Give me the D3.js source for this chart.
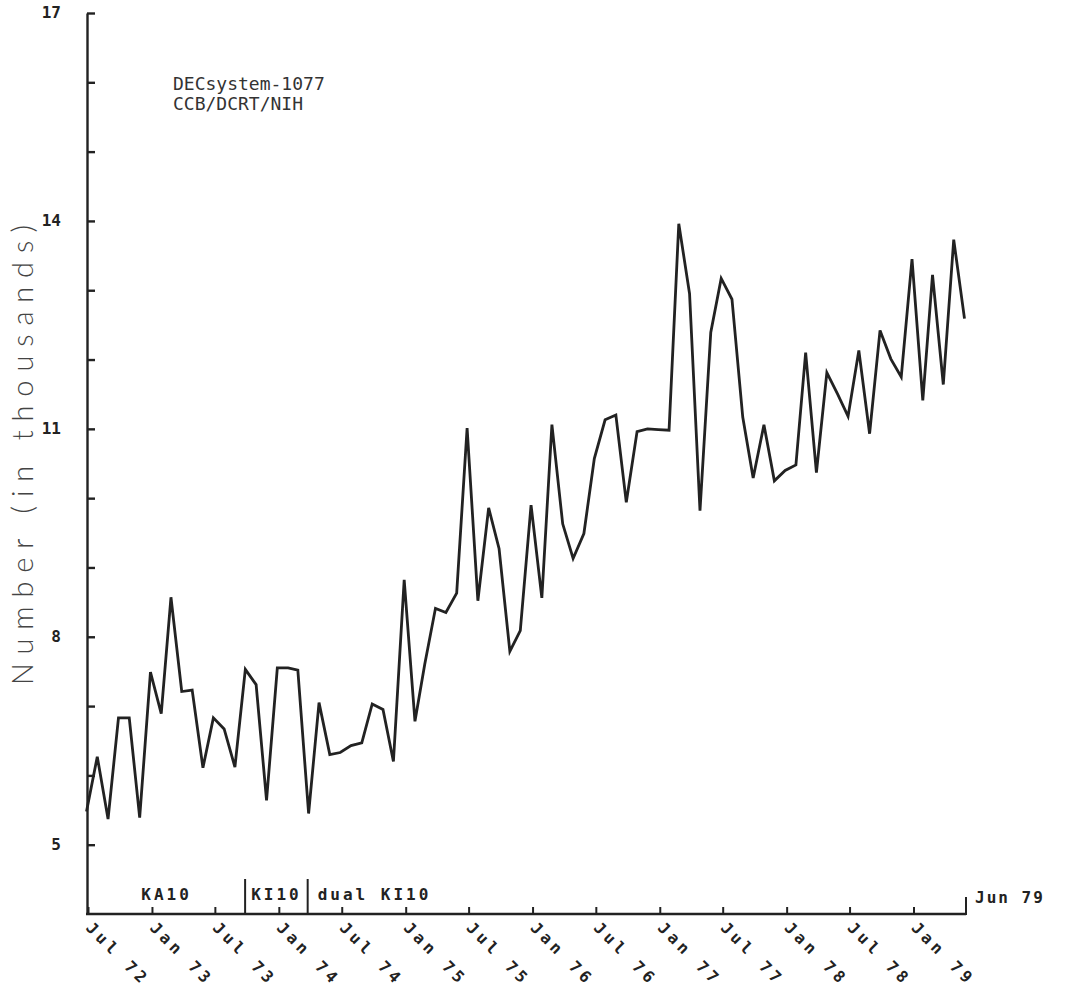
<!DOCTYPE html>
<html>
<head>
<meta charset="utf-8">
<script src="https://cdn.jsdelivr.net/npm/d3@7/dist/d3.min.js"></script>
<style>
  body { margin: 0; background: #fff; }
</style>
</head>
<body>
<div id="chart"></div>
<script>
// monthly values (thousands), one per month starting Jul 72
var firstMonth = "Jul 72";
var values = [
  5.48, 6.27, 5.37, 6.83, 6.83, 5.39, 7.49, 6.89, 8.57, 7.21, 7.23, 6.11,
  6.83, 6.67, 6.12, 7.53, 7.31, 5.64, 7.55, 7.55, 7.52, 5.45, 7.05, 6.30,
  6.33, 6.43, 6.47, 7.03, 6.95, 6.20, 8.82, 6.78, 7.60, 8.41, 8.35, 8.63,
  11.01, 8.52, 9.86, 9.27, 7.79, 8.09, 9.90, 8.56, 11.06, 9.63, 9.13, 9.49,
  10.57, 11.13, 11.20, 9.94, 10.96, 11.00, 10.99, 10.98, 13.96, 12.95, 9.82, 12.39,
  13.17, 12.87, 11.17, 10.29, 11.06, 10.25, 10.40, 10.48, 12.10, 10.37, 11.81, 11.50,
  11.18, 12.13, 10.93, 12.42, 12.01, 11.75, 13.45, 11.41, 13.22, 11.64, 13.73, 12.59
];
var xTickLabels = ["Jul 72", "Jan 73", "Jul 73", "Jan 74", "Jul 74", "Jan 75", "Jul 75",
  "Jan 76", "Jul 76", "Jan 77", "Jul 77", "Jan 78", "Jul 78", "Jan 79"];
var lastLabel = "Jun 79";
var yLabelTicks = [5, 8, 11, 14, 17];
var yDomain = [4, 17];
var eraLabels = ["KA10", "KI10", "dual KI10"];
var eraBreaks = ["1973-09-26", "1974-03-25"];
var titleLines = ["DECsystem-1077", "CCB/DCRT/NIH"];
var yTitle = "Number (in thousands)";

var W = 1069, H = 992;
var mLeft = 87, mRight = 966, mTop = 13, mBottom = 914;
var ink = "#222";
var mono = "'DejaVu Sans Mono', monospace";

var parseMonth = d3.timeParse("%b %y");
var start = parseMonth(firstMonth);
var end = parseMonth(lastLabel);
var data = values.map(function (v, i) {
  return { date: d3.timeMonth.offset(start, i), value: v };
});

var x = d3.scaleTime().domain([start, end]).range([mLeft + 1, mRight]);
var y = d3.scaleLinear().domain(yDomain).range([mBottom, mTop]);

var svg = d3.select("#chart").append("svg")
  .attr("width", W)
  .attr("height", H)
  .style("background", "#fff");

// y axis, ticks pointing inward
var yAxis = d3.axisLeft(y)
  .tickValues(d3.range(5, 18))
  .tickSizeInner(-8)
  .tickSizeOuter(0)
  .tickPadding(26)
  .tickFormat(function (d) { return yLabelTicks.indexOf(d) >= 0 ? d : ""; });

var gy = svg.append("g")
  .attr("transform", "translate(" + mLeft + ",0)")
  .call(yAxis);
gy.select(".domain").attr("stroke", ink).attr("stroke-width", 2.4);
gy.selectAll(".tick line").attr("stroke", ink).attr("stroke-width", 2.4);
gy.selectAll(".tick text")
  .attr("fill", ink)
  .style("font-family", mono)
  .style("font-weight", "bold")
  .style("font-size", "16px")
  .attr("dy", "0.3em");

// x axis, ticks pointing up, labels drawn diagonally
var xTicks = xTickLabels.map(parseMonth);
var xAxis = d3.axisBottom(x)
  .tickValues(xTicks)
  .tickSizeInner(-7)
  .tickSizeOuter(0)
  .tickFormat(function (d, i) { return xTickLabels[i]; });

var gx = svg.append("g")
  .attr("transform", "translate(0," + mBottom + ")")
  .call(xAxis);
gx.select(".domain").attr("stroke", ink).attr("stroke-width", 2.4)
  .attr("d", "M" + (mLeft - 1) + ",0H" + mRight);
gx.selectAll(".tick line").attr("stroke", ink).attr("stroke-width", 2);
gx.selectAll(".tick text")
  .attr("fill", ink)
  .attr("x", 8)
  .attr("y", 13)
  .attr("dy", 0)
  .attr("transform", "rotate(45)")
  .style("text-anchor", "start")
  .style("font-family", mono)
  .style("font-weight", "bold")
  .style("font-size", "16px")
  .style("letter-spacing", "4px");

// end marker for Jun 79
svg.append("line")
  .attr("x1", x(end)).attr("x2", x(end))
  .attr("y1", mBottom + 1).attr("y2", mBottom - 17)
  .attr("stroke", ink).attr("stroke-width", 2);
svg.append("text")
  .attr("x", x(end) + 9)
  .attr("y", mBottom - 11)
  .attr("fill", ink)
  .style("font-family", mono)
  .style("font-weight", "bold")
  .style("font-size", "16px")
  .style("letter-spacing", "2px")
  .text(lastLabel);

// processor eras along the bottom
var breakDates = eraBreaks.map(function (s) { return new Date(s + "T00:00"); });
svg.selectAll("line.era")
  .data(breakDates).enter()
  .append("line")
  .attr("class", "era")
  .attr("x1", function (d) { return x(d); })
  .attr("x2", function (d) { return x(d); })
  .attr("y1", mBottom)
  .attr("y2", mBottom - 35)
  .attr("stroke", ink)
  .attr("stroke-width", 2);

var eraEdges = [start].concat(breakDates);
svg.selectAll("text.era")
  .data(eraLabels).enter()
  .append("text")
  .attr("class", "era")
  .attr("x", function (d, i) {
    if (i < eraLabels.length - 1) return (x(eraEdges[i]) + x(eraEdges[i + 1])) / 2;
    return x(eraEdges[i]) + 10;
  })
  .attr("y", mBottom - 14)
  .attr("text-anchor", function (d, i) { return i < eraLabels.length - 1 ? "middle" : "start"; })
  .attr("fill", ink)
  .style("font-family", mono)
  .style("font-weight", "bold")
  .style("font-size", "16px")
  .style("letter-spacing", "3px")
  .text(function (d) { return d; });

// title block
svg.append("text")
  .attr("x", 173)
  .attr("y", 90)
  .attr("fill", "#333")
  .style("font-family", mono)
  .style("font-size", "18px")
  .selectAll("tspan")
  .data(titleLines).enter()
  .append("tspan")
  .attr("x", 173)
  .attr("dy", function (d, i) { return i === 0 ? 0 : 20; })
  .text(function (d) { return d; });

// y axis title
svg.append("text")
  .attr("transform", "translate(33," + 455 + ") rotate(-90)")
  .attr("text-anchor", "middle")
  .attr("fill", "#444")
  .style("font-family", "Lato, 'Open Sans', sans-serif")
  .style("font-weight", "300")
  .style("font-size", "29px")
  .attr("textLength", 460)
  .attr("lengthAdjust", "spacing")
  .text(yTitle);

// the series
var line = d3.line()
  .x(function (d) { return x(d.date) - 1.5; })
  .y(function (d) { return y(d.value); });

svg.append("path")
  .datum(data)
  .attr("fill", "none")
  .attr("stroke", ink)
  .attr("stroke-width", 2.8)
  .attr("stroke-linejoin", "miter")
  .attr("d", line);
</script>
</body>
</html>
